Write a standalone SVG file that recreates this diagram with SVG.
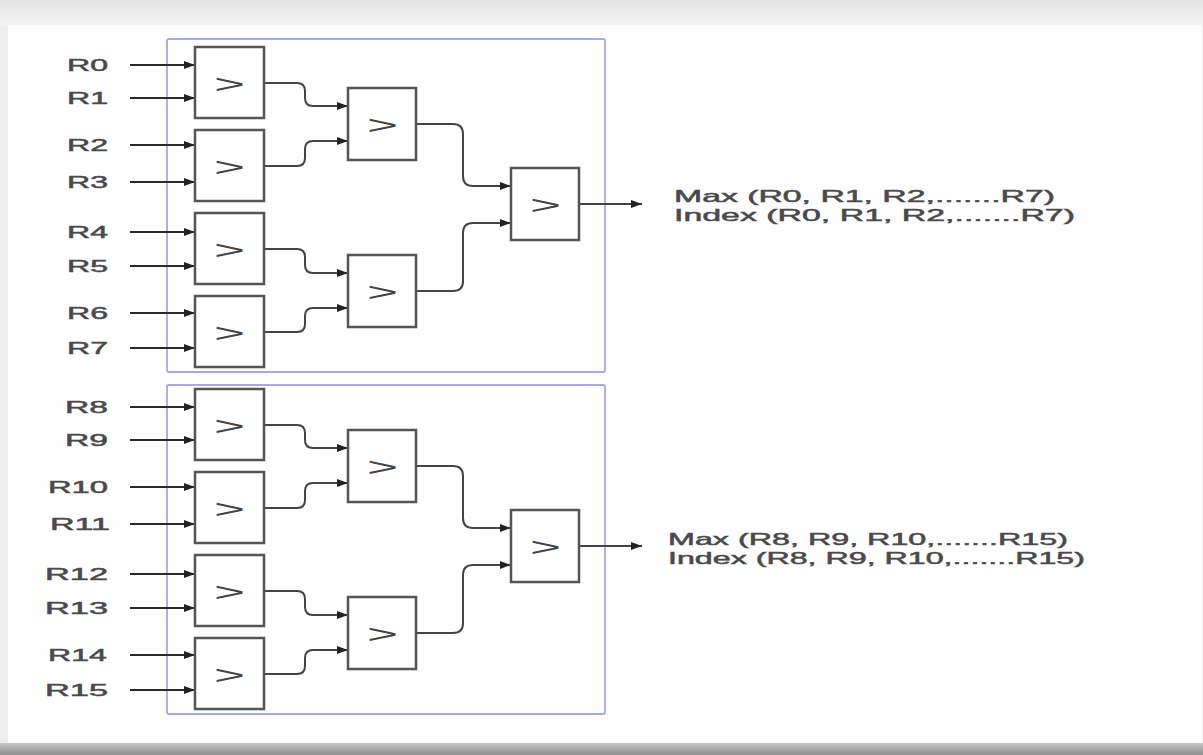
<svg xmlns="http://www.w3.org/2000/svg" width="1203" height="755" viewBox="0 0 1203 755">
<defs>
<linearGradient id="topShade" x1="0" y1="0" x2="0" y2="1"><stop offset="0" stop-color="#e4e4e4"/><stop offset="1" stop-color="#f4f4f4"/></linearGradient>
<linearGradient id="botShade" x1="0" y1="0" x2="0" y2="1"><stop offset="0" stop-color="#c8c8c8"/><stop offset="1" stop-color="#8c8c8c"/></linearGradient>
<marker id="arr" markerUnits="userSpaceOnUse" markerWidth="11" markerHeight="8" refX="11" refY="4" orient="auto"><path d="M0,0 L11,4 L0,8 z" fill="#222"/></marker>
<style>
.cmp rect{fill:#fff;stroke:#555;stroke-width:2.5}
.cmp text{font-family:"Liberation Sans",Arial,sans-serif;font-size:26px;fill:#444}
.lbl{font-family:"Liberation Sans",Arial,sans-serif;font-size:17px;fill:#4a4a4a;stroke:#4a4a4a;stroke-width:0.5}
.in{stroke:#2a2a2a;stroke-width:2;fill:none;marker-end:url(#arr)}
.wire{stroke:#444;stroke-width:2;fill:none;marker-end:url(#arr)}
.grp{fill:none;stroke:#a8a8e6;stroke-width:1.8}
</style>
</defs>
<rect x="0" y="0" width="1203" height="755" fill="#efefef"/>
<rect x="0" y="0" width="1203" height="25" fill="url(#topShade)"/>
<rect x="0" y="743" width="1203" height="12" fill="url(#botShade)"/>
<rect x="8" y="25" width="1194" height="718" fill="#fefefe"/>

<g id="group-top"><rect class="grp" x="167" y="39" width="438" height="333" rx="2"/></g>
<g id="group-bottom"><rect class="grp" x="167" y="385" width="438" height="329" rx="2"/></g>

<g id="labels">
<text class="lbl" x="67" y="71" textLength="41" lengthAdjust="spacingAndGlyphs">R0</text>
<text class="lbl" x="67" y="104" textLength="41" lengthAdjust="spacingAndGlyphs">R1</text>
<text class="lbl" x="67" y="151" textLength="41" lengthAdjust="spacingAndGlyphs">R2</text>
<text class="lbl" x="67" y="188" textLength="41" lengthAdjust="spacingAndGlyphs">R3</text>
<text class="lbl" x="67" y="238" textLength="41" lengthAdjust="spacingAndGlyphs">R4</text>
<text class="lbl" x="67" y="272" textLength="41" lengthAdjust="spacingAndGlyphs">R5</text>
<text class="lbl" x="67" y="319" textLength="41" lengthAdjust="spacingAndGlyphs">R6</text>
<text class="lbl" x="67" y="354" textLength="41" lengthAdjust="spacingAndGlyphs">R7</text>
<text class="lbl" x="65" y="413" textLength="43" lengthAdjust="spacingAndGlyphs">R8</text>
<text class="lbl" x="65" y="446" textLength="43" lengthAdjust="spacingAndGlyphs">R9</text>
<text class="lbl" x="48" y="493" textLength="60" lengthAdjust="spacingAndGlyphs">R10</text>
<text class="lbl" x="50" y="530" textLength="60" lengthAdjust="spacingAndGlyphs">R11</text>
<text class="lbl" x="45" y="580" textLength="63" lengthAdjust="spacingAndGlyphs">R12</text>
<text class="lbl" x="45" y="614" textLength="63" lengthAdjust="spacingAndGlyphs">R13</text>
<text class="lbl" x="48" y="661" textLength="59" lengthAdjust="spacingAndGlyphs">R14</text>
<text class="lbl" x="45" y="696" textLength="63" lengthAdjust="spacingAndGlyphs">R15</text>
<text class="lbl" x="674" y="202" textLength="381" lengthAdjust="spacingAndGlyphs">Max (R0, R1, R2,.......R7)</text>
<text class="lbl" x="674" y="221" textLength="401" lengthAdjust="spacingAndGlyphs">Index (R0, R1, R2,.......R7)</text>
<text class="lbl" x="668" y="545" textLength="400" lengthAdjust="spacingAndGlyphs">Max (R8, R9, R10,.......R15)</text>
<text class="lbl" x="668" y="564" textLength="417" lengthAdjust="spacingAndGlyphs">Index (R8, R9, R10,.......R15)</text>
</g>

<g id="connectors">
<path class="in" d="M130 65 H195"/><path class="in" d="M130 98 H195"/>
<path class="in" d="M130 145 H195"/><path class="in" d="M130 182 H195"/>
<path class="in" d="M130 232 H195"/><path class="in" d="M130 266 H195"/>
<path class="in" d="M130 313 H195"/><path class="in" d="M130 348 H195"/>
<path class="in" d="M130 407 H195"/><path class="in" d="M130 440 H195"/>
<path class="in" d="M130 487 H195"/><path class="in" d="M130 524 H195"/>
<path class="in" d="M130 574 H195"/><path class="in" d="M130 608 H195"/>
<path class="in" d="M130 655 H195"/><path class="in" d="M130 690 H195"/>

<path class="wire" d="M264 83 H297 Q305 83 305 91 V98 Q305 106 313 106 H348"/>
<path class="wire" d="M264 166 H297 Q305 166 305 158 V149 Q305 141 313 141 H348"/>
<path class="wire" d="M264 249 H297 Q305 249 305 257 V265 Q305 273 313 273 H348"/>
<path class="wire" d="M264 332 H297 Q305 332 305 324 V316 Q305 308 313 308 H348"/>
<path class="wire" d="M416 124 H453 Q463 124 463 134 V176 Q463 186 473 186 H511"/>
<path class="wire" d="M416 291 H453 Q463 291 463 281 V233 Q463 223 473 223 H511"/>
<path class="wire" d="M579 204 H642"/>

<path class="wire" d="M264 425 H297 Q305 425 305 433 V440 Q305 448 313 448 H348"/>
<path class="wire" d="M264 508 H297 Q305 508 305 500 V491 Q305 483 313 483 H348"/>
<path class="wire" d="M264 591 H297 Q305 591 305 599 V607 Q305 615 313 615 H348"/>
<path class="wire" d="M264 674 H297 Q305 674 305 666 V658 Q305 650 313 650 H348"/>
<path class="wire" d="M416 466 H453 Q463 466 463 476 V518 Q463 528 473 528 H511"/>
<path class="wire" d="M416 633 H453 Q463 633 463 623 V575 Q463 565 473 565 H511"/>
<path class="wire" d="M579 546 H642"/>
</g>

<g id="cmp-r0r1" class="cmp" transform="translate(195 47)"><rect width="69" height="71"/><text x="19" y="46" textLength="31" lengthAdjust="spacingAndGlyphs">&gt;</text></g>
<g id="cmp-r2r3" class="cmp" transform="translate(195 130)"><rect width="69" height="71"/><text x="19" y="46" textLength="31" lengthAdjust="spacingAndGlyphs">&gt;</text></g>
<g id="cmp-r4r5" class="cmp" transform="translate(195 213)"><rect width="69" height="71"/><text x="19" y="46" textLength="31" lengthAdjust="spacingAndGlyphs">&gt;</text></g>
<g id="cmp-r6r7" class="cmp" transform="translate(195 296)"><rect width="69" height="71"/><text x="19" y="46" textLength="31" lengthAdjust="spacingAndGlyphs">&gt;</text></g>
<g id="cmp-r0r3" class="cmp" transform="translate(348 88)"><rect width="68" height="72"/><text x="19" y="46" textLength="31" lengthAdjust="spacingAndGlyphs">&gt;</text></g>
<g id="cmp-r4r7" class="cmp" transform="translate(348 255)"><rect width="68" height="72"/><text x="19" y="46" textLength="31" lengthAdjust="spacingAndGlyphs">&gt;</text></g>
<g id="cmp-r0r7" class="cmp" transform="translate(511 168)"><rect width="68" height="72"/><text x="19" y="46" textLength="31" lengthAdjust="spacingAndGlyphs">&gt;</text></g>

<g id="cmp-r8r9" class="cmp" transform="translate(195 389)"><rect width="69" height="71"/><text x="19" y="46" textLength="31" lengthAdjust="spacingAndGlyphs">&gt;</text></g>
<g id="cmp-r10r11" class="cmp" transform="translate(195 472)"><rect width="69" height="71"/><text x="19" y="46" textLength="31" lengthAdjust="spacingAndGlyphs">&gt;</text></g>
<g id="cmp-r12r13" class="cmp" transform="translate(195 555)"><rect width="69" height="71"/><text x="19" y="46" textLength="31" lengthAdjust="spacingAndGlyphs">&gt;</text></g>
<g id="cmp-r14r15" class="cmp" transform="translate(195 638)"><rect width="69" height="71"/><text x="19" y="46" textLength="31" lengthAdjust="spacingAndGlyphs">&gt;</text></g>
<g id="cmp-r8r11" class="cmp" transform="translate(348 430)"><rect width="68" height="72"/><text x="19" y="46" textLength="31" lengthAdjust="spacingAndGlyphs">&gt;</text></g>
<g id="cmp-r12r15" class="cmp" transform="translate(348 597)"><rect width="68" height="72"/><text x="19" y="46" textLength="31" lengthAdjust="spacingAndGlyphs">&gt;</text></g>
<g id="cmp-r8r15" class="cmp" transform="translate(511 510)"><rect width="68" height="72"/><text x="19" y="46" textLength="31" lengthAdjust="spacingAndGlyphs">&gt;</text></g>
</svg>
